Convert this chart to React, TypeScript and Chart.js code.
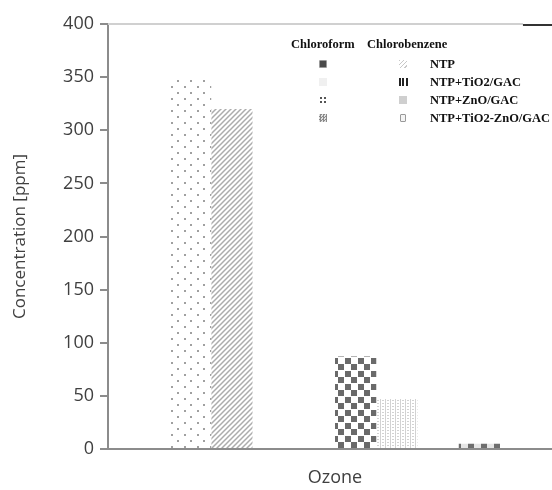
import React, { useEffect, useRef } from "react";
import { Chart, registerables } from "chart.js";

Chart.register(...registerables);

const categories = ["Ozone"];
const seriesLabels = [
  "Chloroform NTP",
  "Chlorobenzene NTP",
  "Chloroform NTP+TiO2/GAC",
  "Chlorobenzene NTP+TiO2/GAC",
  "Chloroform NTP+ZnO/GAC",
  "Chlorobenzene NTP+ZnO/GAC",
  "Chloroform NTP+TiO2-ZnO/GAC",
  "Chlorobenzene NTP+TiO2-ZnO/GAC",
];
const seriesValues = [350, 320, 0, 0, 87, 47, 0, 5];
const seriesPatterns = ["dots", "hatch", "light", "bars", "checker", "fine", "smallchk", "dashes"];
const yTickValues = [0, 50, 100, 150, 200, 250, 300, 350, 400];
const legendHeaders = ["Chloroform", "Chlorobenzene"];
const legendRows = ["NTP", "NTP+TiO2/GAC", "NTP+ZnO/GAC", "NTP+TiO2-ZnO/GAC"];

function makePattern(kind: string): CanvasPattern | string {
  const c = document.createElement("canvas");
  const x = c.getContext("2d")!;
  if (kind === "dots") {
    c.width = 13; c.height = 12;
    x.fillStyle = "#ffffff"; x.fillRect(0, 0, 13, 12);
    x.fillStyle = "#a0a0a0";
    x.fillRect(2, 2, 2, 2);
    x.fillRect(8, 8, 2, 2);
  } else if (kind === "hatch") {
    c.width = 5; c.height = 5;
    x.fillStyle = "#ffffff"; x.fillRect(0, 0, 5, 5);
    x.strokeStyle = "#acacac"; x.lineWidth = 1.5;
    x.beginPath();
    x.moveTo(-1, 6); x.lineTo(6, -1);
    x.moveTo(-1, 1); x.lineTo(1, -1);
    x.moveTo(4, 6); x.lineTo(6, 4);
    x.stroke();
  } else if (kind === "checker") {
    c.width = 13; c.height = 13;
    x.fillStyle = "#ffffff"; x.fillRect(0, 0, 13, 13);
    x.fillStyle = "#6a6a6a";
    x.fillRect(0, 0, 6, 6);
    x.fillRect(7, 7, 6, 6);
  } else if (kind === "fine") {
    c.width = 5; c.height = 3;
    x.fillStyle = "#ffffff"; x.fillRect(0, 0, 5, 3);
    x.fillStyle = "#d2d2d2";
    x.fillRect(0, 0, 1, 3);
    x.fillRect(2, 1, 2, 1);
  } else if (kind === "dashes") {
    c.width = 13; c.height = 4;
    x.fillStyle = "#e6e6e6"; x.fillRect(0, 0, 13, 4);
    x.fillStyle = "#6e6e6e";
    x.fillRect(0, 0, 6, 4);
  } else {
    return "#dddddd";
  }
  return x.createPattern(c, "repeat")!;
}

const topLinePlugin = {
  id: "topLine",
  afterDatasetsDraw(chart: any) {
    const { ctx, chartArea } = chart;
    const { left, right, top } = chartArea;
    const split = left + (right - left) * 0.914;
    ctx.save();
    ctx.lineWidth = 2;
    ctx.strokeStyle = "#d0d0d0";
    ctx.beginPath();
    ctx.moveTo(left, top);
    ctx.lineTo(split, top);
    ctx.stroke();
    ctx.strokeStyle = "#333333";
    ctx.beginPath();
    ctx.moveTo(split, top + 1);
    ctx.lineTo(right, top + 1);
    ctx.stroke();
    ctx.restore();
  },
};

const sym = (style: React.CSSProperties, cx: number, cy: number, w = 8, h = 8) => (
  <div
    style={{
      position: "absolute",
      left: cx - w / 2,
      top: cy - h / 2,
      width: w,
      height: h,
      boxSizing: "border-box",
      ...style,
    }}
  />
);

export default function App() {
  const ref = useRef<HTMLCanvasElement>(null);

  useEffect(() => {
    if (!ref.current) return;
    const datasets = seriesLabels.map((label, i) => ({
      label,
      data: [seriesValues[i]],
      backgroundColor: makePattern(seriesPatterns[i]) as any,
      borderWidth: 0,
      barPercentage: 1,
      categoryPercentage: 0.727,
    }));
    const chart = new Chart(ref.current, {
      type: "bar",
      data: { labels: categories, datasets },
      options: {
        responsive: false,
        animation: false,
        layout: { padding: { top: 24, left: 0, right: 0, bottom: 0 } },
        plugins: { legend: { display: false }, tooltip: { enabled: false } },
        scales: {
          x: {
            grid: { display: false, drawTicks: false },
            border: { display: true, color: "#8c8c8c", width: 2 },
            ticks: {
              padding: 18,
              color: "#404040",
              font: { family: "'Open Sans'", size: 18 },
            },
            afterFit: (s: any) => {
              s.height = 41;
            },
          },
          y: {
            min: 0,
            max: 400,
            afterBuildTicks: (s: any) => {
              s.ticks = yTickValues.map((v) => ({ value: v }));
            },
            grid: {
              drawOnChartArea: false,
              drawTicks: true,
              tickLength: 8,
              color: "#8c8c8c",
              lineWidth: 2,
            },
            border: { display: true, color: "#8c8c8c", width: 2 },
            ticks: {
              padding: 6,
              color: "#404040",
              font: { family: "'Open Sans'", size: 18 },
            },
            title: {
              display: true,
              text: "Concentration [ppm]",
              color: "#404040",
              font: { family: "'Open Sans'", size: 17 },
              padding: { top: 10, bottom: 0 },
            },
            afterFit: (s: any) => {
              s.width = 108;
            },
          },
        },
      },
      plugins: [topLinePlugin],
    });
    return () => chart.destroy();
  }, []);

  const rowY = [63.5, 81.8, 100, 118.2];
  const col1 = 323;
  const col2 = 403;
  const textStyle: React.CSSProperties = {
    position: "absolute",
    fontFamily: "'Liberation Serif', 'Times New Roman', serif",
    fontWeight: "bold",
    fontSize: 12.5,
    lineHeight: "14px",
    color: "#111",
    whiteSpace: "nowrap",
  };

  const col1Syms: React.CSSProperties[] = [
    { background: "#4a4a4a", border: "1px solid #9a9a9a", borderRadius: 1 },
    { background: "#f0f0f0" },
    {
      backgroundImage: "radial-gradient(circle, #555 1.1px, transparent 1.4px)",
      backgroundSize: "4px 4px",
    },
    {
      background: "repeating-conic-gradient(#8a8a8a 0 25%, #e0e0e0 0 50%) 0 0 / 3px 3px",
    },
  ];
  const col2Syms: React.CSSProperties[] = [
    { background: "repeating-linear-gradient(135deg, #c8c8c8 0 1px, transparent 1px 3px)" },
    { background: "repeating-linear-gradient(90deg, #222 0 2px, transparent 2px 3.5px)" },
    { background: "#cfcfcf" },
    { border: "1px solid #999", background: "#f4f4f4", borderRadius: 1 },
  ];

  return (
    <div
      style={{
        position: "absolute",
        left: 0,
        top: 0,
        width: 552,
        height: 490,
        overflow: "hidden",
        background: "#fff",
      }}
    >
      <canvas ref={ref} width={562} height={490} style={{ display: "block", width: 562, height: 490 }} />
      <div style={{ ...textStyle, left: 291, top: 37 }}>{legendHeaders[0]}</div>
      <div style={{ ...textStyle, left: 367, top: 37 }}>{legendHeaders[1]}</div>
      {legendRows.map((r, i) => (
        <React.Fragment key={r}>
          {sym(col1Syms[i], col1, rowY[i])}
          {sym(col2Syms[i], col2, rowY[i], i === 1 ? 9 : i === 3 ? 6 : 8, 8)}
          <div style={{ ...textStyle, left: 430, top: rowY[i] - 7 }}>{r}</div>
        </React.Fragment>
      ))}
    </div>
  );
}
